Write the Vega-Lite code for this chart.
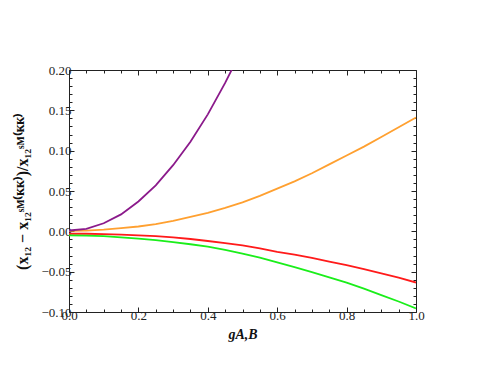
{
  "$schema": "https://vega.github.io/schema/vega-lite/v6.json",
  "width": 347,
  "height": 242,
  "autosize": {"type": "none"},
  "padding": {"left": 69, "top": 70, "right": 69, "bottom": 69},
  "background": "white",
  "config": {
    "view": {"stroke": "#222222", "strokeWidth": 1},
    "axis": {
      "domain": false,
      "grid": false,
      "tickColor": "#222222",
      "labelFont": "Liberation Serif",
      "labelFontSize": 13,
      "labelColor": "#222222",
      "labelFlush": false,
      "labelOverlap": false,
      "titleFont": "Liberation Serif",
      "titleFontWeight": "bold",
      "titleColor": "#111111"
    }
  },
  "data": {
    "values": [
      {"g": 0.0, "v": 0.001, "s": "P"}, {"g": 0.05, "v": 0.003, "s": "P"}, {"g": 0.1, "v": 0.010, "s": "P"}, {"g": 0.15, "v": 0.021, "s": "P"}, {"g": 0.2, "v": 0.037, "s": "P"}, {"g": 0.25, "v": 0.057, "s": "P"}, {"g": 0.3, "v": 0.082, "s": "P"}, {"g": 0.35, "v": 0.111, "s": "P"}, {"g": 0.4, "v": 0.145, "s": "P"}, {"g": 0.45, "v": 0.184, "s": "P"}, {"g": 0.5, "v": 0.227, "s": "P"},
      {"g": 0.0, "v": 0.0005, "s": "O"}, {"g": 0.05, "v": 0.001, "s": "O"}, {"g": 0.1, "v": 0.002, "s": "O"}, {"g": 0.15, "v": 0.004, "s": "O"}, {"g": 0.2, "v": 0.006, "s": "O"}, {"g": 0.25, "v": 0.009, "s": "O"}, {"g": 0.3, "v": 0.013, "s": "O"}, {"g": 0.35, "v": 0.018, "s": "O"}, {"g": 0.4, "v": 0.023, "s": "O"}, {"g": 0.45, "v": 0.029, "s": "O"}, {"g": 0.5, "v": 0.036, "s": "O"}, {"g": 0.55, "v": 0.044, "s": "O"}, {"g": 0.6, "v": 0.053, "s": "O"}, {"g": 0.65, "v": 0.062, "s": "O"}, {"g": 0.7, "v": 0.072, "s": "O"}, {"g": 0.75, "v": 0.083, "s": "O"}, {"g": 0.8, "v": 0.094, "s": "O"}, {"g": 0.85, "v": 0.105, "s": "O"}, {"g": 0.9, "v": 0.117, "s": "O"}, {"g": 0.95, "v": 0.129, "s": "O"}, {"g": 1.0, "v": 0.141, "s": "O"},
      {"g": 0.0, "v": -0.003, "s": "R"}, {"g": 0.05, "v": -0.003, "s": "R"}, {"g": 0.1, "v": -0.0035, "s": "R"}, {"g": 0.15, "v": -0.004, "s": "R"}, {"g": 0.2, "v": -0.005, "s": "R"}, {"g": 0.25, "v": -0.006, "s": "R"}, {"g": 0.3, "v": -0.0075, "s": "R"}, {"g": 0.35, "v": -0.0095, "s": "R"}, {"g": 0.4, "v": -0.012, "s": "R"}, {"g": 0.45, "v": -0.0145, "s": "R"}, {"g": 0.5, "v": -0.0175, "s": "R"}, {"g": 0.55, "v": -0.021, "s": "R"}, {"g": 0.6, "v": -0.0255, "s": "R"}, {"g": 0.65, "v": -0.029, "s": "R"}, {"g": 0.7, "v": -0.033, "s": "R"}, {"g": 0.75, "v": -0.0375, "s": "R"}, {"g": 0.8, "v": -0.042, "s": "R"}, {"g": 0.85, "v": -0.047, "s": "R"}, {"g": 0.9, "v": -0.052, "s": "R"}, {"g": 0.95, "v": -0.0575, "s": "R"}, {"g": 1.0, "v": -0.0635, "s": "R"},
      {"g": 0.0, "v": -0.005, "s": "G"}, {"g": 0.05, "v": -0.0052, "s": "G"}, {"g": 0.1, "v": -0.006, "s": "G"}, {"g": 0.15, "v": -0.0075, "s": "G"}, {"g": 0.2, "v": -0.009, "s": "G"}, {"g": 0.25, "v": -0.011, "s": "G"}, {"g": 0.3, "v": -0.0135, "s": "G"}, {"g": 0.35, "v": -0.016, "s": "G"}, {"g": 0.4, "v": -0.019, "s": "G"}, {"g": 0.45, "v": -0.023, "s": "G"}, {"g": 0.5, "v": -0.0275, "s": "G"}, {"g": 0.55, "v": -0.0325, "s": "G"}, {"g": 0.6, "v": -0.0385, "s": "G"}, {"g": 0.65, "v": -0.0445, "s": "G"}, {"g": 0.7, "v": -0.0505, "s": "G"}, {"g": 0.75, "v": -0.057, "s": "G"}, {"g": 0.8, "v": -0.0635, "s": "G"}, {"g": 0.85, "v": -0.071, "s": "G"}, {"g": 0.9, "v": -0.079, "s": "G"}, {"g": 0.95, "v": -0.087, "s": "G"}, {"g": 1.0, "v": -0.0955, "s": "G"}
    ]
  },
  "layer": [
    {
      "transform": [{"filter": "datum.s !== 'P'"}],
      "mark": {"type": "line", "strokeWidth": 1.8, "clip": true},
      "encoding": {
        "x": {
          "field": "g", "type": "quantitative",
          "scale": {"domain": [0, 1], "nice": false, "zero": false},
          "axis": {
            "orient": "bottom",
            "title": "gA,B",
            "titleFontSize": 14,
            "titleFontStyle": "italic",
            "titlePadding": 3,
            "values": [0, 0.05, 0.1, 0.15, 0.2, 0.25, 0.3, 0.35, 0.4, 0.45, 0.5, 0.55, 0.6, 0.65, 0.7, 0.75, 0.8, 0.85, 0.9, 0.95, 1.0],
            "labelExpr": "abs(datum.value*5 - round(datum.value*5)) < 1e-6 ? format(datum.value, '.1f') : ''",
            "tickSize": {"condition": {"test": "abs(datum.value*5 - round(datum.value*5)) < 1e-6", "value": -5}, "value": -3},
            "labelPadding": 2
          }
        },
        "y": {
          "field": "v", "type": "quantitative",
          "scale": {"domain": [-0.1, 0.2], "nice": false, "zero": false},
          "axis": {
            "orient": "left",
            "title": "(x₁₂ − x₁₂ˢᴹ⁽ᴷᴷ⁾)/x₁₂ˢᴹ⁽ᴷᴷ⁾",
            "titleFontSize": 16,
            "titlePadding": 10,
            "values": [-0.1, -0.09, -0.08, -0.07, -0.06, -0.05, -0.04, -0.03, -0.02, -0.01, 0, 0.01, 0.02, 0.03, 0.04, 0.05, 0.06, 0.07, 0.08, 0.09, 0.1, 0.11, 0.12, 0.13, 0.14, 0.15, 0.16, 0.17, 0.18, 0.19, 0.2],
            "labelExpr": "abs(datum.value*20 - round(datum.value*20)) < 1e-6 ? format(datum.value, '.2f') : ''",
            "tickSize": {"condition": {"test": "abs(datum.value*20 - round(datum.value*20)) < 1e-6", "value": -5}, "value": -3},
            "labelPadding": 3
          }
        },
        "color": {
          "field": "s", "type": "nominal",
          "scale": {"domain": ["P", "O", "R", "G"], "range": ["#8B1A8B", "#FFA030", "#FF1A1A", "#1AEE1A"]},
          "legend": null
        }
      }
    },
    {
      "transform": [{"filter": "datum.s === 'P'"}],
      "mark": {"type": "line", "strokeWidth": 1.8, "clip": true},
      "encoding": {
        "x": {
          "field": "g", "type": "quantitative",
          "scale": {"domain": [0, 1], "nice": false, "zero": false},
          "axis": {
            "orient": "top",
            "title": null,
            "labels": false,
            "values": [0, 0.05, 0.1, 0.15, 0.2, 0.25, 0.3, 0.35, 0.4, 0.45, 0.5, 0.55, 0.6, 0.65, 0.7, 0.75, 0.8, 0.85, 0.9, 0.95, 1.0],
            "tickSize": {"condition": {"test": "abs(datum.value*5 - round(datum.value*5)) < 1e-6", "value": -5}, "value": -3}
          }
        },
        "y": {
          "field": "v", "type": "quantitative",
          "scale": {"domain": [-0.1, 0.2], "nice": false, "zero": false},
          "axis": {
            "orient": "right",
            "title": null,
            "labels": false,
            "values": [-0.1, -0.09, -0.08, -0.07, -0.06, -0.05, -0.04, -0.03, -0.02, -0.01, 0, 0.01, 0.02, 0.03, 0.04, 0.05, 0.06, 0.07, 0.08, 0.09, 0.1, 0.11, 0.12, 0.13, 0.14, 0.15, 0.16, 0.17, 0.18, 0.19, 0.2],
            "tickSize": {"condition": {"test": "abs(datum.value*20 - round(datum.value*20)) < 1e-6", "value": -5}, "value": -3}
          }
        },
        "color": {
          "field": "s", "type": "nominal",
          "scale": {"domain": ["P", "O", "R", "G"], "range": ["#8B1A8B", "#FFA030", "#FF1A1A", "#1AEE1A"]},
          "legend": null
        }
      }
    }
  ],
  "resolve": {"axis": {"x": "independent", "y": "independent"}}
}
